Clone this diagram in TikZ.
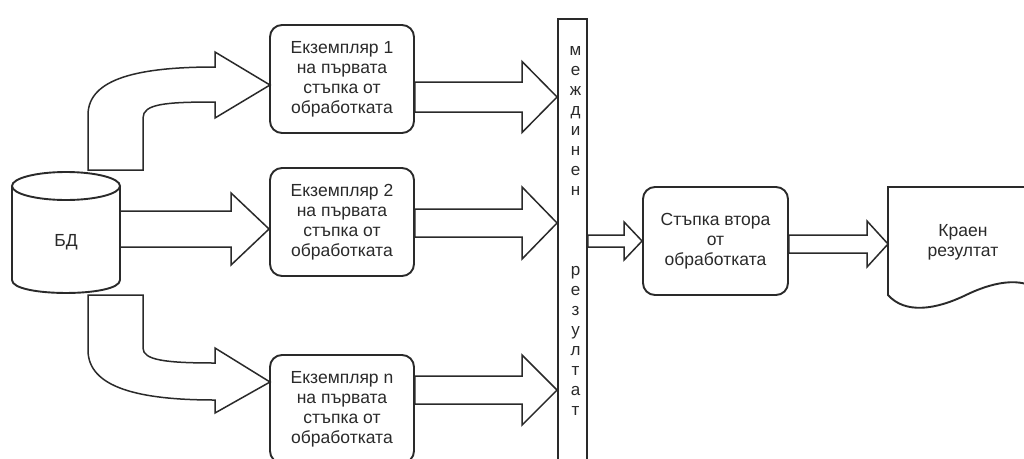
\documentclass[tikz,border=0pt]{standalone}
\usepackage{fontspec}
\setmainfont{Liberation Sans}
\usetikzlibrary{calc}
\definecolor{ink}{HTML}{2A2A2A}
\tikzset{
  outline/.style={draw=ink, line width=1.9pt, fill=white},
  txt/.style={text=ink, align=center, font=\fontsize{17.5}{20}\selectfont},
  procbox/.style={outline, txt, rounded corners=12pt, minimum width=144pt, minimum height=108pt, inner sep=0pt},
  blockarrow/.style={draw=ink, line width=1.5pt, fill=white, line join=miter},
}
% horizontal block arrow: #1 start, #2 tip, #3 shaft half width, #4 head half width, #5 head length
\newcommand\hblock[5]{%
  \draw[blockarrow] let \p1=(#1), \p2=(#2) in
    (\x1,{\y2+#3}) -- ({\x2-#5},{\y2+#3}) -- ({\x2-#5},{\y2+#4}) -- (\x2,\y2)
    -- ({\x2-#5},{\y2-#4}) -- ({\x2-#5},{\y2-#3}) -- (\x1,{\y2-#3}) -- cycle;}
\begin{document}
\begin{tikzpicture}[x=1pt,y=-1pt]
\useasboundingbox (0,0) rectangle (1024,458);
\fill[white] (0,0) rectangle (1024,458);
\clip (0,0) rectangle (1024,458);

% database cylinder
\draw[outline] (12,186) -- (12,280) .. controls (12,297.3) and (120,297.3) .. (120,280) -- (120,186);
\draw[outline] (66,186) ellipse [x radius=54, y radius=14];
\node[txt, minimum width=108pt, inner sep=0pt] (db) at (66,242) {БД};

% first-step instances
\node[procbox] (b1) at (342,79)  {Екземпляр 1\\на първата\\стъпка от\\обработката};
\node[procbox] (b2) at (342,222) {Екземпляр 2\\на първата\\стъпка от\\обработката};
\node[procbox] (bn) at (342,409) {Екземпляр n\\на първата\\стъпка от\\обработката};

% intermediate result bar
\node[outline, minimum width=29pt, minimum height=470pt, anchor=north, inner sep=0pt] (bar) at (572.5,18) {};
\node[txt, font=\fontsize{17}{19.95}\selectfont] (midres) at (575.5,231)
  {м\\е\\ж\\д\\и\\н\\е\\н\\~\\~\\~\\р\\е\\з\\у\\л\\т\\а\\т};

% second step
\node[procbox, minimum width=145pt] (s2) at (715.5,241) {Стъпка втора\\от\\обработката};

% final result document
\draw[outline] (888,295) -- (888,187) -- (1044,187) -- (1044,295)
  .. controls (1027,276) and (997,280) .. (966,295)
  .. controls (935,310) and (905,314) .. (888,295) -- cycle;
\coordinate (finw) at (888,244);
\node[txt] (fin) at (963,242) {Краен\\резултат};

% bent arrows from the database
\draw[blockarrow] (88,170) -- (143,170) -- (143,118) .. controls (143,104) and (165,102) .. (215,102)
  -- (215,118) -- (270,85) -- (215,52) -- (215,67) .. controls (140,67) and (88,78) .. (88,115) -- cycle;
\draw[blockarrow] (88,295) -- (143,295) -- (143,348) .. controls (143,360) and (165,363) .. (215,363)
  -- (215,348) -- (270,382) -- (215,413) -- (215,400) .. controls (140,400) and (88,388) .. (88,350) -- cycle;

% straight arrows
\coordinate (t0) at ($(b2.west)+(0,7)$);
\hblock{db.east}{t0}{18pt}{36pt}{38pt}
\coordinate (t1) at ($(b1.east -| bar.west)+(0,18)$);
\coordinate (t2) at ($(b2.east -| bar.west)+(0,1)$);
\coordinate (tn) at ($(bn.east -| bar.west)+(0,-19)$);
\hblock{b1.east}{t1}{15pt}{35.5pt}{35pt}
\hblock{b2.east}{t2}{14pt}{36pt}{35pt}
\hblock{bn.east}{tn}{14pt}{35pt}{35pt}
\hblock{bar.east}{s2.west}{6pt}{19pt}{18pt}
\hblock{s2.east}{finw}{9pt}{23pt}{21pt}
\end{tikzpicture}
\end{document}
